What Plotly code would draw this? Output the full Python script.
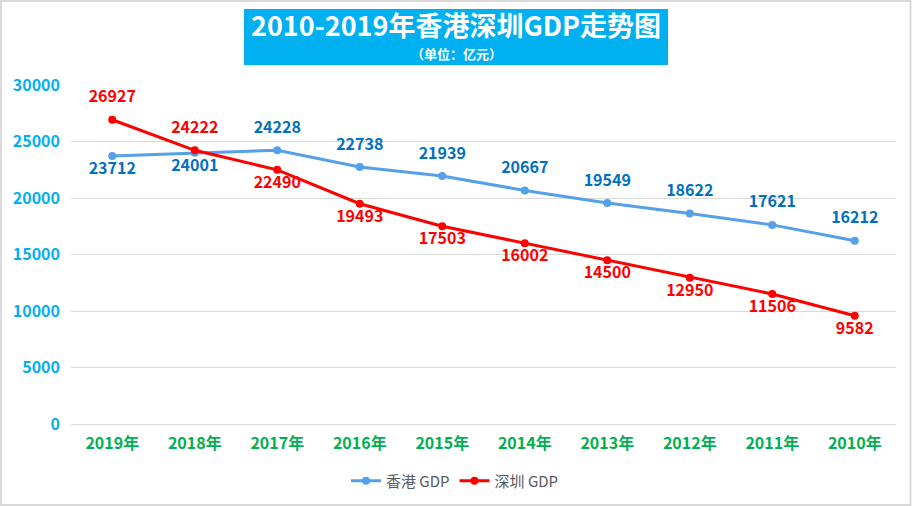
import plotly.graph_objects as go

years = ["2019年", "2018年", "2017年", "2016年", "2015年", "2014年", "2013年", "2012年", "2011年", "2010年"]
hk_gdp = [23712, 24001, 24228, 22738, 21939, 20667, 19549, 18622, 17621, 16212]
sz_gdp = [26927, 24222, 22490, 19493, 17503, 16002, 14500, 12950, 11506, 9582]
# label above (True) or below (False) the point
hk_above = [False, False, True, True, True, True, True, True, True, True]
sz_above = [True, True, False, False, False, False, False, False, False, False]

FONT = "Noto Sans CJK SC, Microsoft YaHei, sans-serif"

fig = go.Figure()

def add_series(name, values, above, line_color, label_color):
    below_txt = ["" if a else str(v) for v, a in zip(values, above)]
    above_txt = [str(v) if a else "" for v, a in zip(values, above)]
    fig.add_trace(go.Scatter(
        x=years, y=values, name=name, mode="lines+markers+text",
        line=dict(color=line_color, width=3), marker=dict(size=8, color=line_color),
        text=below_txt, textposition="bottom center",
        textfont=dict(color=label_color, size=16, family=FONT, weight="bold"),
    ))
    fig.add_trace(go.Scatter(
        x=years, y=values, name=name, mode="markers+text", showlegend=False,
        hoverinfo="skip", marker=dict(size=20, color=line_color, opacity=0),
        text=above_txt, textposition="top center",
        textfont=dict(color=label_color, size=16, family=FONT, weight="bold"),
    ))

add_series("香港 GDP", hk_gdp, hk_above, "#55A0E8", "#0070C0")
add_series("深圳 GDP", sz_gdp, sz_above, "#FF0000", "#FF0000")

L, R, T, B = 71, 16, 85, 82
W, H = 912, 506
pw, ph = W - L - R, H - T - B

def px(x):
    return (x - L) / pw

def py(y):
    return (H - B - y) / ph

fig.update_layout(
    width=W, height=H, autosize=False,
    margin=dict(l=L, r=R, t=T, b=B),
    paper_bgcolor="white", plot_bgcolor="white",
    font=dict(family=FONT),
    showlegend=True,
    legend=dict(orientation="h", xref="container", yref="container",
                x=455 / W, xanchor="center", y=1 - 481 / H, yanchor="middle",
                font=dict(size=15, color="#595959", family=FONT), itemwidth=30,
                traceorder="normal"),
    xaxis=dict(range=[-0.5, 9.5], showgrid=False, showline=False, zeroline=False, ticks="",
               automargin=False, ticklabelstandoff=8,
               tickfont=dict(color="#00B050", size=16, family=FONT, weight="bold")),
    yaxis=dict(range=[0, 30000], dtick=5000, tickformat="d", showgrid=True, gridcolor="#D9D9D9",
               gridwidth=1, zeroline=True, zerolinecolor="#D9D9D9", zerolinewidth=1,
               showline=False, ticks="",
               ticklabelstandoff=10, automargin=False,
               tickfont=dict(color="#00B0F0", size=16, family=FONT, weight="bold")),
    shapes=[
        dict(type="rect", xref="paper", yref="paper",
             x0=px(244), x1=px(668), y0=py(65), y1=py(9),
             fillcolor="#00B0F0", line=dict(width=0), layer="below"),
        dict(type="rect", xref="paper", yref="paper",
             x0=px(1), x1=px(910.5), y0=py(505), y1=py(1),
             fillcolor="rgba(0,0,0,0)", line=dict(width=2, color="#D9D9D9")),
    ],
    annotations=[
        dict(text="<b>2010-2019年香港深圳GDP走势图</b>", xref="paper", yref="paper",
             x=px(456), y=py(25), xanchor="center", yanchor="middle", showarrow=False,
             font=dict(size=27, color="white", family=FONT)),
        dict(text="（单位：亿元）", xref="paper", yref="paper",
             x=px(456), y=py(53), xanchor="center", yanchor="middle", showarrow=False,
             font=dict(size=13, color="white", family=FONT, weight="bold")),
    ],
)

fig.write_html("out.html", config={"displayModeBar": False},
               post_script="document.body.style.margin='0';")
